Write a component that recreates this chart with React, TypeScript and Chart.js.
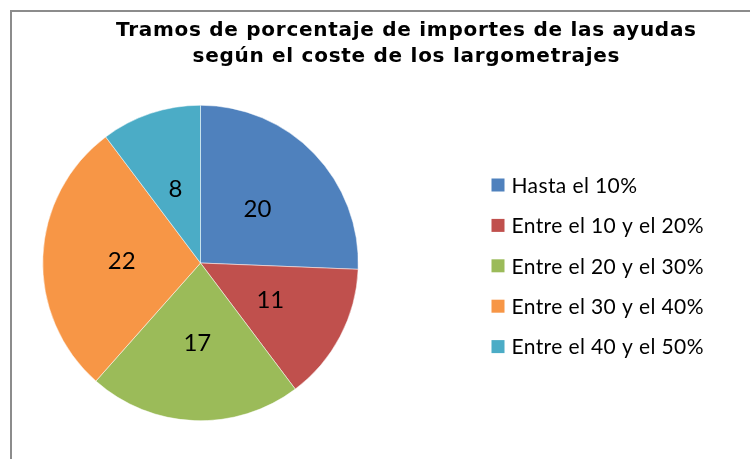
import { useEffect, useRef } from "react";
import { Chart, registerables } from "chart.js";

Chart.register(...registerables);

const TITLE_LINES = [
  "Tramos de porcentaje de importes de las ayudas",
  "según el coste de los largometrajes",
];
const CATEGORIES = [
  "Hasta el 10%",
  "Entre el 10 y el 20%",
  "Entre el 20 y el 30%",
  "Entre el 30 y el 40%",
  "Entre el 40 y el 50%",
];
const VALUES = [20, 11, 17, 22, 8];
const COLORS = ["#4F81BD", "#C0504D", "#9BBB59", "#F79646", "#4BACC6"];

function spacingFor(ctx: CanvasRenderingContext2D, text: string, target: number) {
  ctx.letterSpacing = "0px";
  const w = ctx.measureText(text).width;
  return Math.max(0, (target - w) / Math.max(1, text.length - 1));
}

const decorPlugin = {
  id: "decor",
  beforeDraw(chart: any) {
    const ctx = chart.ctx;
    ctx.save();
    ctx.fillStyle = "#ffffff";
    ctx.fillRect(0, 0, chart.width, chart.height);
    ctx.restore();
  },
  afterDraw(chart: any) {
    const ctx = chart.ctx as CanvasRenderingContext2D;
    ctx.save();
    // frame
    ctx.strokeStyle = "#8c8c8c";
    ctx.lineWidth = 2;
    ctx.beginPath();
    ctx.moveTo(11, chart.height);
    ctx.lineTo(11, 11);
    ctx.lineTo(chart.width, 11);
    ctx.stroke();

    // title
    ctx.fillStyle = "#000000";
    (ctx as any).fontStretch = "normal";
    ctx.font = "bold 20px 'DejaVu Sans'";
    ctx.textAlign = "left";
    ctx.textBaseline = "middle";
    const ls = spacingFor(ctx, TITLE_LINES[0], 580);
    ctx.letterSpacing = ls + "px";
    TITLE_LINES.forEach((t, i) => {
      const w = ctx.measureText(t).width - ls;
      ctx.fillText(t, 406 - w / 2, 31 + i * 26);
    });

    // legend
    ctx.font = "21px Lato";
    const lls = spacingFor(ctx, CATEGORIES[1], 192);
    ctx.letterSpacing = lls + "px";
    CATEGORIES.forEach((label, i) => {
      const cy = 185 + i * 40.4;
      ctx.fillStyle = COLORS[i];
      ctx.fillRect(491.5, cy - 6.5, 13, 13);
      ctx.fillStyle = "#000000";
      ctx.fillText(label, 511.5, cy + 1);
    });

    // data labels
    ctx.letterSpacing = "0px";
    ctx.textAlign = "center";
    ctx.font = "24px Lato";
    const meta = chart.getDatasetMeta(0);
    meta.data.forEach((arc: any, i: number) => {
      const p = arc.tooltipPosition(true);
      ctx.fillStyle = "#000000";
      ctx.fillText(String(VALUES[i]), p.x, p.y + 1);
    });
    ctx.restore();
  },
};

export default function App() {
  const ref = useRef<HTMLCanvasElement | null>(null);
  useEffect(() => {
    document.body.style.margin = "0";
    const chart = new Chart(ref.current as HTMLCanvasElement, {
      type: "pie",
      data: {
        labels: CATEGORIES,
        datasets: [
          {
            data: VALUES,
            backgroundColor: COLORS,
            borderColor: "#ffffff",
            borderWidth: 0.5,
          },
        ],
      },
      options: {
        responsive: false,
        animation: false,
        layout: { padding: { left: 42, top: 105, right: 391, bottom: 38 } },
        plugins: {
          legend: { display: false },
          title: { display: false },
          tooltip: { enabled: false },
        },
      },
      plugins: [decorPlugin],
    });
    return () => chart.destroy();
  }, []);
  return (
    <div style={{ width: 750, height: 459, position: "relative" }}>
      <canvas ref={ref} width={750} height={459} style={{ display: "block" }} />
    </div>
  );
}
